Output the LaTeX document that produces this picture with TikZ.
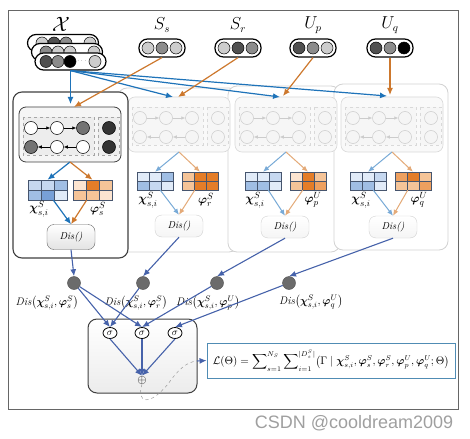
\documentclass[tikz,border=0pt]{standalone}
\usepackage{amsmath,amssymb,bm}
\usepackage{fontspec}
\newfontfamily\wmfont{Liberation Sans}
\usetikzlibrary{arrows.meta,shapes.geometric}

\definecolor{arrblue}{RGB}{30,115,185}
\definecolor{arrorange}{RGB}{205,120,45}
\definecolor{arrnavy}{RGB}{70,98,170}
\definecolor{fadeblue}{RGB}{120,170,215}
\definecolor{fadeorange}{RGB}{228,170,120}
\definecolor{bl1}{RGB}{225,235,248}
\definecolor{bl2}{RGB}{198,216,240}
\definecolor{bl3}{RGB}{160,190,228}
\definecolor{bl4}{RGB}{120,160,215}
\definecolor{or1}{RGB}{252,228,208}
\definecolor{or2}{RGB}{245,196,152}
\definecolor{or3}{RGB}{238,160,95}
\definecolor{or4}{RGB}{228,125,40}
\definecolor{gridcol}{RGB}{70,85,110}
\definecolor{tokdark}{RGB}{80,80,80}
\definecolor{tokmid}{RGB}{140,140,140}
\definecolor{toklight}{RGB}{205,205,205}
\definecolor{lossblue}{RGB}{80,140,180}

% name, left, top, cell width, cell height, six colours
\newcommand{\cellgrid}[6]{%
  \foreach \cl [count=\k from 0] in {#6}{
    \pgfmathtruncatemacro{\cc}{mod(\k,3)}
    \pgfmathtruncatemacro{\rr}{\k/3}
    \filldraw[fill=\cl,draw=gridcol,line width=.6pt] ({#2+\cc*#4},{#3+\rr*#5}) rectangle ++(#4,#5);
  }
  \node[inner sep=0pt,minimum width={3*#4},minimum height={2*#5}] (#1) at ({#2+1.5*#4},{#3+#5}) {};
}

\tikzset{
  pill/.style={draw=black,line width=1.2pt,rounded corners=8.5pt,fill=white,
    minimum width=46pt,minimum height=18pt,inner sep=0pt},
  tok/.style={circle,draw=black,line width=.5pt,minimum size=12pt,inner sep=0pt},
  toplabel/.style={font=\fontsize{16}{18}\selectfont,inner sep=1pt},
  gridlabel/.style={font=\fontsize{13}{15}\selectfont,inner sep=0pt},
  dislabel/.style={font=\fontsize{11}{13}\selectfont,inner sep=0pt},
  ball/.style={circle,draw=black,fill=white,minimum size=13pt,inner sep=0pt,line width=.5pt},
  endball/.style={ball,fill=black!55},
  obsball/.style={ball,fill=black!80},
  blockbox/.style={draw=black!75,fill=gray!8,rounded corners=7pt,line width=.8pt},
  dashbox/.style={draw=gray!70,dashed,fill=gray!14,line width=.4pt},
  chainarr/.style={-{Latex[length=4pt,width=3.5pt]},black,line width=.6pt},
  panelfront/.style={draw=black!75,line width=1.1pt,rounded corners=9pt,fill=white},
  panelback/.style={draw=gray!35,line width=.8pt,rounded corners=9pt,fill=white},
  disfront/.style={draw=black!60,rounded corners=7pt,top color=white,bottom color=gray!22,
    minimum width=48pt,minimum height=25pt,font=\itshape},
  disback/.style={draw=gray!35,rounded corners=7pt,top color=white,bottom color=gray!8,
    minimum width=48pt,minimum height=22pt,font=\itshape},
  bluearr/.style={-{Latex[length=7pt,width=6pt]},arrblue,line width=1.2pt},
  orangearr/.style={-{Latex[length=7pt,width=6pt]},arrorange,line width=1.2pt},
  fbluearr/.style={-{Latex[length=6pt,width=5pt]},fadeblue,line width=1pt},
  forangearr/.style={-{Latex[length=6pt,width=5pt]},fadeorange,line width=1pt},
  navyarr/.style={-{Latex[length=7pt,width=6pt]},arrnavy,line width=1.1pt},
  dnode/.style={circle,draw=black!70,fill=black!58,minimum size=13pt,inner sep=0pt},
  sig/.style={ellipse,draw=black,line width=.8pt,fill=white,minimum width=14pt,minimum height=11pt,inner sep=0pt},
  chainblock/.pic={
    \draw[blockbox] (0,0) rectangle (102,55);
    \draw[dashbox] (4,10) rectangle (75,48);
    \draw[dashbox] (79,10) rectangle (100,48);
    \node[ball] (-a1) at (12,21) {};
    \node[ball] (-a2) at (38,21) {};
    \node[endball] (-a3) at (64,21) {};
    \node[endball] (-b1) at (12,40) {};
    \node[ball] (-b2) at (38,40) {};
    \node[ball] (-b3) at (64,40) {};
    \node[obsball] (-c1) at (90,21) {};
    \node[obsball] (-c2) at (90,40) {};
    \draw[chainarr] (-a1) -- (-a2);
    \draw[chainarr] (-a2) -- (-a3);
    \draw[chainarr] (-b3) -- (-b2);
    \draw[chainarr] (-b2) -- (-b1);
    \coordinate (-bot) at (51,55);
  }
}

\begin{document}
\begin{tikzpicture}[x=1pt,y=-1pt]
\useasboundingbox (0,0) rectangle (470,438);
\draw[draw=black!60,line width=.8pt] (8,10) rectangle (458,409);

% inputs
\node[toplabel,font=\fontsize{20}{22}\selectfont] (lx) at (61,24) {$\mathcal{X}$};
\node[toplabel] (lss) at (162,25) {$S_s$};
\node[toplabel] (lsr) at (238,25) {$S_r$};
\node[toplabel] (lup) at (313,25) {$U_p$};
\node[toplabel] (luq) at (390,25) {$U_q$};

\node[pill,minimum width=71pt,minimum height=17pt] (xtok3) at (63,43) {};
\foreach \px/\col [count=\k] in {42/toklight,54/tokdark,66/tokmid,90/toklight}
  \node[tok,fill=\col] (xa\k) at (\px,43) {};
\node[pill,minimum width=71pt,minimum height=17pt] (xtok2) at (67,52) {};
\foreach \px/\col [count=\k] in {46/tokmid,58/toklight,70/toklight,94/toklight}
  \node[tok,fill=\col] (xb\k) at (\px,52) {};
\node[pill,minimum width=71pt,minimum height=17pt] (xtok) at (70.5,61.5) {};
\foreach \px/\col [count=\k] in {46/tokdark,58/tokmid,70/black,95/toklight}
  \node[tok,fill=\col] (xc\k) at (\px,61.5) {};
\node[inner sep=0pt,font=\tiny] (xdots) at (82.5,61) {$\cdots$};

\node[pill] (ss) at (162,48) {};
\foreach \px/\col [count=\k] in {148/toklight,162/tokmid,176/toklight}
  \node[tok,fill=\col] (ss\k) at (\px,48) {};
\node[pill] (sr) at (238,48) {};
\foreach \px/\col [count=\k] in {224/toklight,238/tokdark,252/tokmid}
  \node[tok,fill=\col] (sr\k) at (\px,48) {};
\node[pill] (up) at (313,48) {};
\foreach \px/\col [count=\k] in {299/tokdark,313/tokmid,327/toklight}
  \node[tok,fill=\col] (up\k) at (\px,48) {};
\node[pill] (uq) at (390,48) {};
\foreach \px/\col [count=\k] in {376/tokdark,390/tokmid,404/black}
  \node[tok,fill=\col] (uq\k) at (\px,48) {};

% faded panels
\begin{scope}[ball/.style={circle,draw=gray!40,fill=gray!8,minimum size=13pt,inner sep=0pt,line width=.5pt},
  endball/.style={ball}, obsball/.style={ball},
  blockbox/.style={draw=gray!30,fill=gray!5,rounded corners=7pt,line width=.6pt},
  dashbox/.style={draw=gray!30,dashed,fill=gray!7,line width=.4pt},
  chainarr/.style={-{Latex[length=4pt,width=3.5pt]},gray!40,line width=.6pt}]
\draw[panelback] (118,88) rectangle (238,252);
\draw[panelback] (228,86) rectangle (340,252);
\draw[panelback] (334,84) rectangle (448,250);
\pic (ch2) at (128,97) {chainblock};
\pic (ch3) at (235,97) {chainblock};
\pic (ch4) at (341,97) {chainblock};
\end{scope}

\cellgrid{bg2}{137}{172}{12}{9}{bl1,bl1,bl3,bl3,bl2,bl1}
\cellgrid{og2}{182}{172}{12}{9}{or2,or4,or4,or2,or4,or4}
\cellgrid{bg3}{245}{172}{12}{9}{bl1,bl1,bl2,bl3,bl3,bl1}
\cellgrid{og3}{290}{172}{12}{9}{or1,or4,or2,or2,or4,or3}
\cellgrid{bg4}{350}{172}{12}{9}{bl1,bl1,bl2,bl3,bl3,bl1}
\cellgrid{og4}{395}{172}{12}{9}{or3,or4,or2,or2,or2,or3}

\node[gridlabel] (xl2) at (148,200) {$\bm{\chi}^S_{s,i}$};
\node[gridlabel] (pl2) at (206,200) {$\bm{\varphi}^S_r$};
\node[gridlabel] (xl3) at (255,200) {$\bm{\chi}^S_{s,i}$};
\node[gridlabel] (pl3) at (313,200) {$\bm{\varphi}^U_p$};
\node[gridlabel] (xl4) at (361,200) {$\bm{\chi}^S_{s,i}$};
\node[gridlabel] (pl4) at (419,200) {$\bm{\varphi}^U_q$};

\node[disback] (dis2) at (179,226) {Dis()};
\node[disback] (dis3) at (285,227) {Dis()};
\node[disback] (dis4) at (393,227) {Dis()};

\foreach \p in {2,3,4}{
  \draw[fbluearr] (ch\p-bot) -- (bg\p.north);
  \draw[forangearr] (ch\p-bot) -- (og\p.north);
  \draw[fbluearr] (bg\p.-60) -- (dis\p.north);
  \draw[forangearr] (og\p.-120) -- (dis\p.north);
}

% front panel
\draw[panelfront] (13,92) rectangle (128,258);
\pic (ch1) at (19,107) {chainblock};
\cellgrid{bg1}{28}{180}{13}{10}{bl2,bl2,bl3,bl3,bl4,bl1}
\cellgrid{og1}{73}{180}{13}{10}{or1,or4,or2,or2,or2,or1}
\node[gridlabel] (xl1) at (39,209) {$\bm{\chi}^S_{s,i}$};
\node[gridlabel] (pl1) at (98,209) {$\bm{\varphi}^S_s$};
\node[disfront] (dis1) at (71,237) {Dis()};
\draw[bluearr] (ch1-bot) -- (bg1.north);
\draw[orangearr] (ch1-bot) -- (og1.north);
\draw[bluearr] (bg1.-60) -- (dis1.north);
\draw[orangearr] (og1.-120) -- (dis1.north);

% inputs to panels
\coordinate (bin1) at (70.5,104);
\coordinate (oin1) at (74,107);
\coordinate (bin2) at (173,97);
\coordinate (oin2) at (178,97);
\coordinate (bin3) at (280,97);
\coordinate (oin3) at (283,96);
\coordinate (bin4) at (387,96);
\coordinate (oin4) at (390,95);
\foreach \p in {1,...,4}
  \draw[bluearr] (xtok.south) -- (bin\p);
\draw[orangearr] (ss.south) -- (oin1);
\draw[orangearr] (sr.south) -- (oin2);
\draw[orangearr] (up.south) -- (oin3);
\draw[orangearr] (uq.south) -- (oin4);

% distances
\node[dnode] (d1) at (74,283) {};
\node[dnode] (d2) at (143,283) {};
\node[dnode] (d3) at (217,283) {};
\node[dnode] (d4) at (289,283) {};
\node[dislabel] (dl1) at (47,303) {$\mathit{Dis}\bigl(\bm{\chi}^S_{s,i},\bm{\varphi}^S_s\bigr)$};
\node[dislabel] (dl2) at (136,303) {$\mathit{Dis}\bigl(\bm{\chi}^S_{s,i},\bm{\varphi}^S_r\bigr)$};
\node[dislabel] (dl3) at (208,303) {$\mathit{Dis}\bigl(\bm{\chi}^S_{s,i},\bm{\varphi}^U_p\bigr)$};
\node[dislabel] (dl4) at (311,302) {$\mathit{Dis}\bigl(\bm{\chi}^S_{s,i},\bm{\varphi}^U_q\bigr)$};
\foreach \p in {1,...,4}
  \draw[navyarr] (dis\p.south) -- (d\p.north);

% aggregation
\node[draw=black!75,line width=1pt,rounded corners=9pt,top color=white,bottom color=gray!15,
  minimum width=109pt,minimum height=74pt] (agg) at (142.5,356) {};
\node[sig] (s1) at (110,333) {$\sigma$};
\node[sig] (s2) at (142,333) {$\sigma$};
\node[sig] (s3) at (175,333) {$\sigma$};
\node[inner sep=0pt,font=\large] (plus) at (142,380) {$\oplus$};
\draw[navyarr] (d1) -- (s1.north);
\draw[navyarr] (d1) -- (s2.north);
\draw[navyarr] (d2) -- (s1.north);
\draw[navyarr] (d3) -- (s2.north);
\draw[navyarr] (d4) -- (s3.north);
\foreach \p in {1,2,3}
  \draw[navyarr] (s\p.south) -- (plus.north);

% loss
\node[draw=lossblue,line width=.9pt,fill=white,minimum width=248pt,minimum height=35pt,inner sep=1pt,
  font=\fontsize{10.5}{12}\selectfont] (loss) at (331,360.5)
  {$\mathcal{L}(\Theta)=\displaystyle\sum\nolimits_{s=1}^{N_S}\sum\nolimits_{i=1}^{|D^S_s|}\bigl(\Gamma\mid\bm{\chi}^S_{s,i},\bm{\varphi}^S_s,\bm{\varphi}^S_r,\bm{\varphi}^U_p,\bm{\varphi}^U_q;\Theta\bigr)$};
\coordinate (lk) at (197,361);
\draw[dashed,gray!80,line width=.5pt] (plus.south) .. controls (136,404) and (150,406) .. (168,384) .. controls (178,370) and (186,362) .. (lk);
\draw[navyarr] (lk) -- (loss.west);

\node[font=\wmfont\fontsize{18}{21}\selectfont,text=gray!75] (wmark) at (354,423) {CSDN @cooldream2009};
\end{tikzpicture}
\end{document}
